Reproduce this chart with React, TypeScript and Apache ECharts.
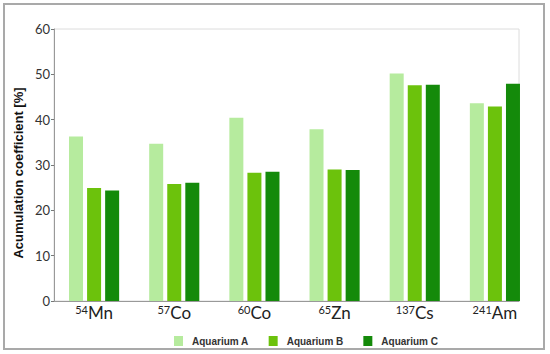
import React, { useEffect, useRef } from "react";
import * as echarts from "echarts";

const categories = ["54Mn", "57Co", "60Co", "65Zn", "137Cs", "241Am"];
const seriesNames = ["Aquarium A", "Aquarium B", "Aquarium C"];
const aquariumA = [36.3, 34.7, 40.4, 37.9, 50.2, 43.6];
const aquariumB = [24.9, 25.8, 28.3, 29.0, 47.6, 42.9];
const aquariumC = [24.4, 26.1, 28.5, 28.9, 47.7, 47.9];
const yTicks = { min: 0, max: 60, interval: 10 };
const colors = ["#b6eb9e", "#6cc20c", "#148a0a"];

export default function App() {
  const ref = useRef<HTMLDivElement>(null);
  useEffect(() => {
    if (!ref.current) return;
    const chart = echarts.init(ref.current, null, { renderer: "svg" });
    const values = [aquariumA, aquariumB, aquariumC];
    chart.setOption({
      animation: false,
      backgroundColor: "#ffffff",
      grid: [
        { left: 54, top: 29, right: 15, bottom: 53 },
        {
          left: 54,
          top: 29,
          right: 31,
          bottom: 53,
          show: true,
          borderColor: "#dcdcdc",
          borderWidth: 1,
          backgroundColor: "transparent",
        },
      ],
      legend: {
        data: seriesNames,
        left: 169,
        top: 331,
        itemWidth: 9,
        itemHeight: 10,
        itemGap: 20,
        icon: "rect",
        textStyle: {
          fontFamily: "Liberation Sans, Arial, sans-serif",
          fontWeight: "bold",
          fontSize: 10,
          color: "#333",
          padding: [0, 0, 0, 4],
        },
      },
      xAxis: [
        {
          type: "category",
          gridIndex: 0,
          data: categories,
          axisLine: { show: false },
          axisTick: { show: false },
          axisLabel: {
            margin: 3,
            interval: 0,
            formatter: (v: string) => {
              const m = v.match(/^(\d+)(.*)$/);
              return m ? `{sup|${m[1]}}{el|${m[2]}}` : v;
            },
            rich: {
              sup: {
                fontFamily: "Lato, sans-serif",
                fontSize: 11,
                lineHeight: 11,
                verticalAlign: "top",
                color: "#222",
              },
              el: {
                fontFamily: "Lato, sans-serif",
                fontSize: 17,
                lineHeight: 17,
                padding: [5, 0, 0, 0],
                verticalAlign: "bottom",
                color: "#222",
              },
            },
          },
        },
        {
          type: "category",
          gridIndex: 1,
          data: [],
          axisLine: { show: true, lineStyle: { color: "#999", width: 1 } },
          axisTick: { show: false },
          axisLabel: { show: false },
        },
      ],
      yAxis: [
        {
          type: "value",
          gridIndex: 0,
          min: yTicks.min,
          max: yTicks.max,
          interval: yTicks.interval,
          axisLine: { show: true, lineStyle: { color: "#999", width: 1 } },
          axisTick: { show: true, length: 3, lineStyle: { color: "#777" } },
          splitLine: { show: false },
          axisLabel: {
            margin: 4,
            fontFamily: "Lato, sans-serif",
            fontSize: 13,
            color: "#333",
          },
        },
        {
          type: "value",
          gridIndex: 1,
          min: 0,
          max: 1,
          show: false,
        },
      ],
      series: values.map((d, i) => ({
        name: seriesNames[i],
        type: "bar",
        xAxisIndex: 0,
        yAxisIndex: 0,
        data: d,
        barWidth: 14,
        barGap: "29%",
        itemStyle: { color: colors[i] },
      })),
      graphic: [
        {
          type: "rect",
          shape: { x: 4, y: 4, width: 540, height: 345 },
          style: { fill: "none", stroke: "#a9a9a9", lineWidth: 2 },
          silent: true,
        },
        {
          type: "text",
          x: 18,
          y: 173,
          rotation: Math.PI / 2,
          style: {
            text: "Acumulation coefficient [%]",
            font: "bold 13px 'Liberation Sans', Arial, sans-serif",
            fill: "#111",
            textAlign: "center",
            textVerticalAlign: "middle",
          },
        },
      ],
    });
    return () => chart.dispose();
  }, []);
  return (
    <div
      ref={ref}
      style={{ position: "fixed", left: 0, top: 0, width: 550, height: 354, background: "#fff" }}
    />
  );
}
